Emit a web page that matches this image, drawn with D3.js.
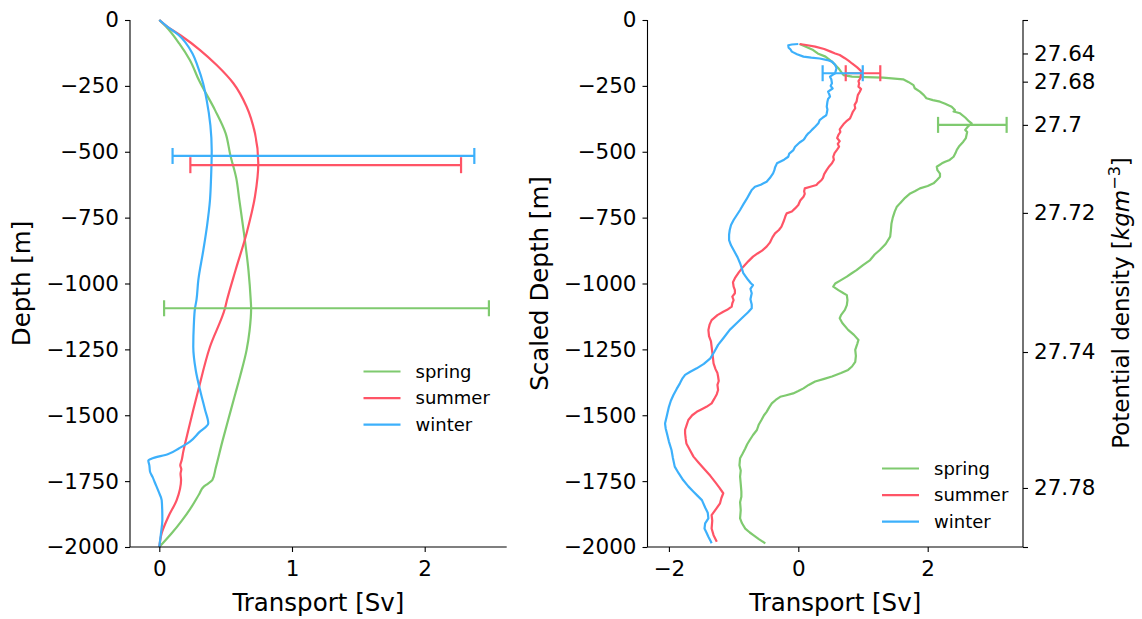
<!DOCTYPE html>
<html>
<head>
<meta charset="utf-8">
<script src="https://cdn.jsdelivr.net/npm/d3@7"></script>
<style>
  body { margin: 0; background: #fff; }
  svg { display: block; }
  text { font-family: "DejaVu Sans", sans-serif; fill: #000; }
</style>
</head>
<body>
<svg id="chart" width="1142" height="619"></svg>
<script>
// ---- data ---------------------------------------------------------------
const seasons = ["spring", "summer", "winter"];
const seasonColors = ["#7fca6f", "#ff5466", "#3db0fb"];

const depthTicks = [0, -250, -500, -750, -1000, -1250, -1500, -1750, -2000];
const transportTicksLeft = [0, 1, 2];
const transportTicksRight = [-2, 0, 2];
const densityTickLabels = ["", "27.64", "27.68", "27.7", "27.72", "27.74", "27.78", ""];
const densityTickDepths = [0, -127, -234, -398, -732, -1260, -1776, -2000];

// mean transport profiles, [depth m, transport Sv]
const springProfile = [[0,0],[-25,0.05],[-89,0.15],[-152,0.23],[-230,0.30],[-342,0.42],[-430,0.50],[-512,0.535],[-600,0.58],[-683,0.603],[-809,0.638],[-950,0.672],[-1063,0.689],[-1094,0.692],[-1180,0.68],[-1252,0.658],[-1350,0.61],[-1420,0.572],[-1492,0.533],[-1600,0.475],[-1700,0.425],[-1746,0.40],[-1760,0.365],[-1771,0.335],[-1800,0.30],[-1847,0.244],[-1900,0.17],[-1950,0.09],[-2000,0]];
const summerProfile = [[0,0],[-25,0.06],[-57,0.156],[-114,0.307],[-171,0.432],[-240,0.558],[-329,0.658],[-430,0.721],[-544,0.746],[-670,0.721],[-809,0.658],[-949,0.575],[-1063,0.51],[-1094,0.495],[-1240,0.382],[-1404,0.294],[-1556,0.219],[-1640,0.18],[-1670,0.169],[-1690,0.158],[-1705,0.166],[-1722,0.160],[-1746,0.164],[-1822,0.131],[-1885,0.068],[-1948,0.018],[-2000,0]];
const winterProfile = [[0,0],[-25,0.06],[-57,0.145],[-127,0.25],[-177,0.29],[-240,0.33],[-304,0.357],[-400,0.385],[-493,0.395],[-600,0.39],[-683,0.382],[-780,0.36],[-873,0.332],[-987,0.294],[-1063,0.28],[-1094,0.269],[-1160,0.26],[-1240,0.256],[-1330,0.275],[-1404,0.307],[-1480,0.345],[-1530,0.369],[-1565,0.30],[-1600,0.231],[-1625,0.15],[-1647,0.068],[-1665,-0.06],[-1672,-0.083],[-1690,-0.075],[-1714,-0.07],[-1735,-0.05],[-1757,-0.032],[-1790,-0.005],[-1822,0.018],[-1860,0.022],[-1898,0.023],[-1950,0.012],[-2000,0]];

// transport on the density-scaled depth axis, [scaled depth m, transport Sv]
const springScaled = [[-91,0.02],[-100,0.10],[-114,0.23],[-127,0.30],[-139,0.42],[-158,0.52],[-183,0.62],[-200,0.67],[-209,0.70],[-215,0.83],[-217,1.05],[-219,1.31],[-225,1.62],[-235,1.70],[-247,1.78],[-259,1.80],[-272,1.88],[-285,1.94],[-297,1.98],[-304,2.08],[-310,2.19],[-318,2.27],[-329,2.37],[-342,2.42],[-347,2.40],[-354,2.50],[-370,2.58],[-385,2.64],[-392,2.68],[-405,2.62],[-417,2.58],[-425,2.61],[-436,2.60],[-448,2.59],[-462,2.55],[-478,2.49],[-493,2.45],[-505,2.43],[-519,2.40],[-531,2.34],[-538,2.27],[-544,2.22],[-557,2.14],[-570,2.15],[-583,2.19],[-595,2.19],[-608,2.14],[-620,2.09],[-630,2.0],[-639,1.88],[-650,1.80],[-658,1.73],[-675,1.65],[-696,1.57],[-710,1.52],[-727,1.49],[-750,1.46],[-772,1.44],[-800,1.43],[-822,1.42],[-850,1.35],[-873,1.26],[-890,1.18],[-911,1.11],[-930,1.0],[-949,0.90],[-962,0.82],[-974,0.75],[-990,0.64],[-1000,0.57],[-1012,0.54],[-1025,0.62],[-1037,0.70],[-1044,0.75],[-1063,0.76],[-1082,0.75],[-1100,0.72],[-1120,0.66],[-1132,0.64],[-1150,0.68],[-1176,0.77],[-1195,0.86],[-1214,0.93],[-1230,0.91],[-1252,0.88],[-1275,0.89],[-1297,0.88],[-1315,0.83],[-1328,0.77],[-1340,0.66],[-1353,0.52],[-1362,0.40],[-1372,0.26],[-1385,0.16],[-1398,0.08],[-1408,0.0],[-1417,-0.08],[-1425,-0.20],[-1430,-0.28],[-1442,-0.35],[-1455,-0.41],[-1470,-0.45],[-1487,-0.49],[-1500,-0.53],[-1518,-0.57],[-1535,-0.61],[-1556,-0.64],[-1575,-0.70],[-1594,-0.75],[-1610,-0.79],[-1626,-0.82],[-1645,-0.86],[-1663,-0.90],[-1690,-0.91],[-1710,-0.89],[-1733,-0.90],[-1760,-0.89],[-1790,-0.88],[-1809,-0.88],[-1830,-0.90],[-1860,-0.89],[-1891,-0.90],[-1910,-0.87],[-1930,-0.82],[-1945,-0.75],[-1954,-0.70],[-1970,-0.61],[-1986,-0.51]];
const summerScaled = [[-91,0.02],[-95,0.12],[-101,0.26],[-110,0.40],[-120,0.50],[-127,0.57],[-133,0.64],[-145,0.72],[-155,0.78],[-165,0.83],[-180,0.91],[-196,0.98],[-205,0.97],[-221,0.96],[-232,0.93],[-240,0.94],[-253,0.93],[-262,0.97],[-272,0.95],[-285,0.92],[-297,0.91],[-310,0.90],[-322,0.87],[-335,0.88],[-350,0.84],[-362,0.82],[-373,0.80],[-385,0.74],[-395,0.70],[-405,0.67],[-415,0.64],[-425,0.65],[-436,0.62],[-448,0.60],[-460,0.64],[-470,0.61],[-481,0.63],[-492,0.60],[-505,0.56],[-519,0.54],[-530,0.55],[-544,0.52],[-555,0.48],[-569,0.44],[-585,0.40],[-600,0.38],[-607,0.36],[-618,0.31],[-626,0.28],[-632,0.20],[-639,0.10],[-650,0.09],[-660,0.10],[-671,0.08],[-685,0.03],[-702,0.0],[-715,-0.05],[-727,-0.10],[-734,-0.18],[-745,-0.20],[-760,-0.22],[-784,-0.26],[-797,-0.30],[-810,-0.36],[-825,-0.40],[-845,-0.44],[-860,-0.49],[-875,-0.56],[-886,-0.63],[-898,-0.70],[-915,-0.77],[-936,-0.85],[-958,-0.92],[-980,-0.98],[-995,-1.01],[-1012,-1.0],[-1025,-0.98],[-1037,-0.98],[-1050,-1.02],[-1063,-1.0],[-1075,-1.02],[-1088,-1.03],[-1100,-1.10],[-1107,-1.16],[-1120,-1.25],[-1139,-1.34],[-1155,-1.37],[-1176,-1.39],[-1200,-1.38],[-1220,-1.35],[-1240,-1.34],[-1260,-1.33],[-1280,-1.32],[-1303,-1.31],[-1325,-1.28],[-1340,-1.25],[-1353,-1.24],[-1370,-1.23],[-1385,-1.25],[-1404,-1.24],[-1420,-1.26],[-1438,-1.30],[-1455,-1.34],[-1468,-1.42],[-1478,-1.50],[-1487,-1.57],[-1500,-1.64],[-1518,-1.70],[-1540,-1.73],[-1555,-1.75],[-1569,-1.75],[-1590,-1.74],[-1607,-1.73],[-1630,-1.68],[-1657,-1.62],[-1680,-1.54],[-1708,-1.44],[-1730,-1.36],[-1752,-1.29],[-1775,-1.22],[-1796,-1.16],[-1815,-1.19],[-1834,-1.21],[-1855,-1.27],[-1879,-1.34],[-1900,-1.33],[-1930,-1.34],[-1955,-1.31],[-1980,-1.26]];
const winterScaled = [[-91,0.0],[-93,-0.10],[-96,-0.155],[-105,-0.15],[-112,-0.12],[-120,-0.10],[-130,-0.02],[-139,0.08],[-143,0.20],[-146,0.33],[-152,0.45],[-158,0.52],[-170,0.57],[-183,0.59],[-192,0.58],[-202,0.57],[-208,0.53],[-215,0.49],[-225,0.51],[-240,0.52],[-250,0.50],[-260,0.53],[-272,0.46],[-283,0.48],[-291,0.49],[-300,0.46],[-310,0.45],[-329,0.44],[-340,0.45],[-354,0.44],[-362,0.43],[-370,0.38],[-380,0.33],[-392,0.31],[-405,0.26],[-417,0.21],[-425,0.18],[-430,0.155],[-440,0.12],[-449,0.10],[-455,0.08],[-465,0.02],[-481,-0.05],[-495,-0.08],[-507,-0.14],[-519,-0.155],[-530,-0.22],[-544,-0.33],[-560,-0.36],[-570,-0.37],[-582,-0.39],[-600,-0.44],[-614,-0.49],[-625,-0.58],[-633,-0.67],[-645,-0.72],[-658,-0.75],[-680,-0.80],[-700,-0.85],[-721,-0.90],[-740,-0.95],[-759,-1.0],[-778,-1.04],[-797,-1.06],[-815,-1.07],[-835,-1.07],[-855,-1.04],[-873,-1.0],[-900,-0.94],[-923,-0.90],[-945,-0.87],[-961,-0.85],[-985,-0.78],[-1000,-0.73],[-1006,-0.70],[-1020,-0.74],[-1037,-0.72],[-1060,-0.74],[-1080,-0.72],[-1094,-0.72],[-1110,-0.78],[-1126,-0.85],[-1150,-0.95],[-1176,-1.06],[-1205,-1.15],[-1233,-1.24],[-1260,-1.30],[-1284,-1.36],[-1305,-1.46],[-1322,-1.57],[-1335,-1.67],[-1347,-1.75],[-1360,-1.79],[-1379,-1.83],[-1400,-1.88],[-1423,-1.93],[-1445,-1.97],[-1468,-2.0],[-1500,-2.03],[-1531,-2.06],[-1550,-2.05],[-1569,-2.03],[-1600,-2.0],[-1632,-1.96],[-1660,-1.94],[-1695,-1.91],[-1720,-1.85],[-1746,-1.78],[-1770,-1.70],[-1790,-1.62],[-1805,-1.56],[-1822,-1.49],[-1850,-1.44],[-1870,-1.40],[-1891,-1.39],[-1910,-1.44],[-1930,-1.45],[-1945,-1.42],[-1961,-1.39],[-1975,-1.36],[-1986,-1.34]];

// error bars: depth, centre and half-width (Sv), in season order
const profileErrDepth = [-1094, -551, -516];
const profileErrMean = [1.26, 1.254, 1.237];
const profileErrHalf = [1.224, 1.02, 1.137];
const scaledErrDepth = [-398, -202, -202];
const scaledErrMean = [2.69, 1.0, 0.686];
const scaledErrHalf = [0.53, 0.267, 0.31];

// ---- drawing ------------------------------------------------------------
const svg = d3.select("#chart");
const TICK_FONT = 21.5, LABEL_FONT = 24.5, LEGEND_FONT = 18, DENSITY_LABEL_FONT = 23;
const LW = 2.2;

const plotTop = 20, plotBottom = 547;
const yDepth = d3.scaleLinear().domain([0, -2000]).range([plotTop, plotBottom]);

function styleAxis(g) {
  g.selectAll("path.domain").attr("stroke", "#000").attr("stroke-width", 1.1);
  g.selectAll(".tick line").attr("stroke", "#000").attr("stroke-width", 1.1);
  g.selectAll(".tick text").attr("font-size", TICK_FONT).attr("font-family", "DejaVu Sans").attr("fill", "#000");
}

function panel(opts) {
  const x = d3.scaleLinear().domain(opts.xDomain).range([opts.left, opts.right]);
  const g = svg.append("g");

  // series lines
  const line = d3.line().x(d => x(d[1])).y(d => yDepth(d[0])).curve(opts.curve);
  opts.series.forEach((s, i) => {
    g.append("path").datum(s)
      .attr("d", line)
      .attr("fill", "none")
      .attr("stroke", seasonColors[i])
      .attr("stroke-width", LW)
      .attr("stroke-linejoin", "round");
  });

  // horizontal error bars with caps
  const cap = 8;
  seasons.forEach((s, i) => {
    const yy = yDepth(opts.errDepth[i]);
    const x0 = x(opts.errMean[i] - opts.errHalf[i]);
    const x1 = x(opts.errMean[i] + opts.errHalf[i]);
    const eg = g.append("g").attr("stroke", seasonColors[i]).attr("stroke-width", LW);
    eg.append("line").attr("x1", x0).attr("x2", x1).attr("y1", yy).attr("y2", yy);
    eg.append("line").attr("x1", x0).attr("x2", x0).attr("y1", yy - cap).attr("y2", yy + cap);
    eg.append("line").attr("x1", x1).attr("x2", x1).attr("y1", yy - cap).attr("y2", yy + cap);
  });

  // axes
  const xa = g.append("g").attr("transform", `translate(0,${plotBottom})`)
    .call(d3.axisBottom(x).tickValues(opts.xTicks).tickSize(5).tickPadding(9).tickFormat(d3.format("d")));
  styleAxis(xa);
  xa.selectAll("path.domain").attr("d", `M${opts.left},0H${opts.right}`);
  const ya = g.append("g").attr("transform", `translate(${opts.left},0)`)
    .call(d3.axisLeft(yDepth).tickValues(depthTicks).tickSize(5).tickPadding(6).tickFormat(d3.format("d")));
  styleAxis(ya);
  ya.selectAll("path.domain").attr("d", `M0,${plotTop}V${plotBottom}`);

  // axis titles
  g.append("text")
    .attr("x", (opts.left + opts.right) / 2).attr("y", 611)
    .attr("text-anchor", "middle").attr("font-size", LABEL_FONT)
    .text("Transport [Sv]");
  g.append("text")
    .attr("transform", `translate(${opts.yLabelX},${(plotTop + plotBottom) / 2}) rotate(-90)`)
    .attr("text-anchor", "middle").attr("font-size", LABEL_FONT)
    .text(opts.yLabel);

  // legend
  seasons.forEach((s, i) => {
    const ly = opts.legendY + i * 26.6;
    g.append("line")
      .attr("x1", opts.legendX).attr("x2", opts.legendX + 37)
      .attr("y1", ly).attr("y2", ly)
      .attr("stroke", seasonColors[i]).attr("stroke-width", LW);
    g.append("text")
      .attr("x", opts.legendX + 52).attr("y", ly)
      .attr("dy", "0.35em").attr("font-size", LEGEND_FONT)
      .text(s);
  });
  return { x, g };
}

// left panel: mean transport profiles by depth
panel({
  left: 130, right: 506.7,
  xDomain: [-0.2208, 2.618],
  xTicks: transportTicksLeft,
  series: [springProfile, summerProfile, winterProfile],
  curve: d3.curveMonotoneY,
  errDepth: profileErrDepth, errMean: profileErrMean, errHalf: profileErrHalf,
  yLabel: "Depth [m]", yLabelX: 30,
  legendX: 363.5, legendY: 371.5
});

// right panel: transport on density-scaled depth
panel({
  left: 647.5, right: 1023,
  xDomain: [-2.331, 3.473],
  xTicks: transportTicksRight,
  series: [springScaled, summerScaled, winterScaled],
  curve: d3.curveLinear,
  errDepth: scaledErrDepth, errMean: scaledErrMean, errHalf: scaledErrHalf,
  yLabel: "Scaled Depth [m]", yLabelX: 548,
  legendX: 882, legendY: 468.5
});

// density axis on the right side of the second panel
const da = svg.append("g").attr("transform", "translate(1023,0)")
  .call(d3.axisRight(yDepth).tickValues(densityTickDepths).tickSize(5).tickPadding(6)
    .tickFormat((d, i) => densityTickLabels[i]));
styleAxis(da);
da.selectAll("path.domain").attr("d", `M0,${plotTop}V${plotBottom}`);

const dl = svg.append("text")
  .attr("transform", "translate(1129,303) rotate(-90)")
  .attr("text-anchor", "middle").attr("font-size", DENSITY_LABEL_FONT);
dl.append("tspan").text("Potential density [");
dl.append("tspan").attr("font-style", "italic").text("kgm");
dl.append("tspan").attr("font-size", DENSITY_LABEL_FONT * 0.7).attr("dy", -9.5).text("\u22123");
dl.append("tspan").attr("dy", 9.5).text("]");
</script>
</body>
</html>
